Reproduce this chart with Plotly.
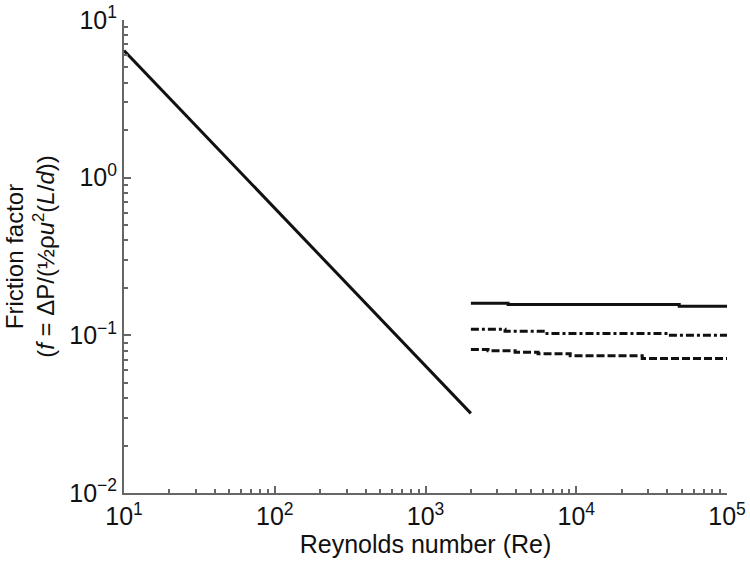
import plotly.graph_objects as go

# Laminar region (f = 64/Re)
re_lam = [10, 2000]
f_lam = [6.4, 0.032]

# Turbulent region readings (three roughness curves)
re_t1 = [2000, 3530, 48200, 100000]
f_t1 = [0.160, 0.157, 0.153, 0.153]

re_t2 = [2000, 3370, 6220, 40700, 100000]
f_t2 = [0.1094, 0.106, 0.1026, 0.1003, 0.1003]

re_t3 = [2000, 2600, 3930, 5580, 9120, 27400, 100000]
f_t3 = [0.0813, 0.0797, 0.078, 0.0763, 0.0741, 0.0714, 0.0714]

x_tickvals = [10, 100, 1000, 10000, 100000]
x_ticktext = ["10<sup>1</sup>", "10<sup>2</sup>", "10<sup>3</sup>", "10<sup>4</sup>", "10<sup>5</sup>"]
y_tickvals = [0.01, 0.1, 1, 10]
y_ticktext = ["10<sup>\u22122</sup>", "10<sup>\u22121</sup>", "10<sup>0</sup>", "10<sup>1</sup>"]

fig = go.Figure()
fig.add_trace(go.Scatter(x=re_lam, y=f_lam, mode="lines",
                         line=dict(color="#111", width=3)))
fig.add_trace(go.Scatter(x=re_t1, y=f_t1, mode="lines", line_shape="hv",
                         line=dict(color="#111", width=3)))
fig.add_trace(go.Scatter(x=re_t2, y=f_t2, mode="lines", line_shape="hv",
                         line=dict(color="#111", width=3, dash="8px,3px,3px,3px")))
fig.add_trace(go.Scatter(x=re_t3, y=f_t3, mode="lines", line_shape="hv",
                         line=dict(color="#111", width=3, dash="8px,3px")))

font = "Liberation Sans, Arial, sans-serif"
axis_common = dict(
    showgrid=False, zeroline=False, showline=True, linecolor="#666", linewidth=2,
    ticks="inside", ticklen=7, tickwidth=1.5, tickcolor="#666",
    tickfont=dict(family=font, size=25, color="#111"),
    minor=dict(ticks="inside", ticklen=4, tickwidth=1.5, tickcolor="#666",
               dtick="D1", showgrid=False),
    mirror=False, automargin=False,
)

fig.update_layout(
    width=750, height=563,
    margin=dict(l=124, r=23, t=20, b=70),
    paper_bgcolor="white", plot_bgcolor="white",
    showlegend=False,
    xaxis=dict(type="log", range=[1, 5], tickvals=x_tickvals, ticktext=x_ticktext,
               title=dict(text="Reynolds number (Re)", font=dict(family=font, size=25, color="#111"),
                          standoff=0),
               **axis_common),
    yaxis=dict(type="log", range=[-2, 1], tickvals=y_tickvals, ticktext=y_ticktext,
               title=dict(text="Friction factor<br>(<i>f</i> = \u0394P/(\u00bd\u03c1<i>u</i><sup>2</sup>(<i>L</i>/<i>d</i>))",
                          font=dict(family=font, size=24, color="#111"), standoff=8),
               **axis_common),
)

fig.write_html("out.html", config={"displayModeBar": False},
               post_script="document.body.style.margin='0px';")
